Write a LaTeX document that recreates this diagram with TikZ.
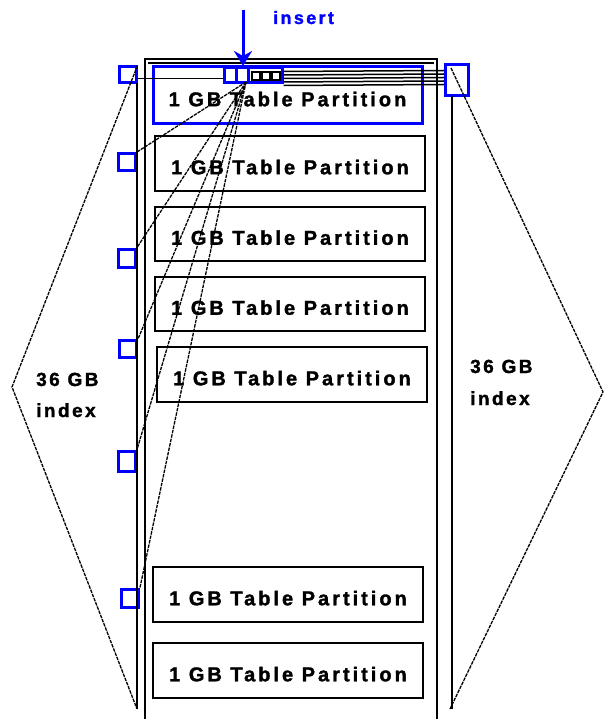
\documentclass[tikz,border=0pt]{standalone}
\usepackage{fontspec}
\setmainfont{Liberation Sans}
\newfontfamily\lblfont{Liberation Sans}[LetterSpace=13, BoldFeatures={FakeBold=1.5}]
\newfontfamily\partfontfam{Liberation Sans}[LetterSpace=15, BoldFeatures={FakeBold=1.5}]
\usetikzlibrary{arrows.meta,calc}
\definecolor{pureblue}{RGB}{0,0,255}
\tikzset{
  part/.style={draw=black, line width=1.2pt, inner sep=0pt, text height=21.5pt, text depth=0pt,
    font=\partfontfam\bfseries\fontsize{20}{20}\selectfont},
  bluepart/.style={part, draw=pureblue, line width=3pt},
  bsq/.style={draw=pureblue, line width=3pt, inner sep=0pt},
  ksq/.style={draw=black, line width=1.2pt, inner sep=0pt, minimum size=8pt},
  lbl/.style={inner sep=0pt, font=\lblfont\bfseries\fontsize{19}{20}\selectfont},
  thin/.style={line width=1.2pt},
  ptr/.style={line width=1.5pt},
  jag/.style={line width=1.3pt, dash pattern=on 3.5pt off 1pt},
}
\begin{document}
\begin{tikzpicture}[x=1pt,y=-1pt]
\useasboundingbox (0,0) rectangle (604,719);
% table outline (double top)
\draw[thin] (145,719) -- (145,59) -- (437,59) -- (437,719);
\draw[thin] (148,63) -- (434,63);
% partitions
\node[bluepart, minimum width=269pt, minimum height=57pt] (p1) at (287.5,95.5) {1 GB Table Partition};
\node[part, minimum width=270pt, minimum height=55pt] (p2) at (290,163.5) {1 GB Table Partition};
\node[part, minimum width=270pt, minimum height=54pt] (p3) at (290,234) {1 GB Table Partition};
\node[part, minimum width=270pt, minimum height=54pt] (p4) at (290,304) {1 GB Table Partition};
\node[part, minimum width=270pt, minimum height=55pt] (p5) at (292,374.5) {1 GB Table Partition};
\node[part, minimum width=270pt, minimum height=55pt] (p6) at (288,594.5) {1 GB Table Partition};
\node[part, minimum width=270pt, minimum height=55pt] (p7) at (288,670.5) {1 GB Table Partition};
% top small squares
\node[bsq, minimum width=12pt, minimum height=15pt] (a) at (230,75) {};
\node[bsq, minimum width=12pt, minimum height=15pt] (b) at (242,75) {};
\node[bsq, minimum width=34pt, minimum height=15pt] (c) at (265,75) {};
\node[ksq] (k1) at (256,76) {};
\node[ksq] (k2) at (266,76) {};
\node[ksq] (k3) at (276,76) {};
% left index squares
\node[bsq, minimum width=17pt, minimum height=16pt] (s0) at (127.5,75) {};
\node[bsq, minimum width=17pt, minimum height=17pt] (s1) at (127,162) {};
\node[bsq, minimum width=17pt, minimum height=18pt] (s2) at (127,258) {};
\node[bsq, minimum width=17pt, minimum height=17pt] (s3) at (128,349) {};
\node[bsq, minimum width=17pt, minimum height=20pt] (s4) at (127,461) {};
\node[bsq, minimum width=17pt, minimum height=18pt] (s5) at (130,598) {};
% right index square
\node[bsq, minimum width=23pt, minimum height=31pt] (r) at (457,80) {};
% index outlines
\coordinate (ltop) at (137,83);
\coordinate (ltip) at (12,387);
\coordinate (lbot) at (137,709);
\coordinate (rst) at (451,68);
\coordinate (rtip) at (603,392);
\coordinate (rbot) at (450,709);
\coordinate (rvt) at (452,96);
\coordinate (rvb) at (452,709);
\draw[thin] (ltop) -- (lbot);
\draw[jag] (s0.north east) -- (ltip) -- (lbot);
\draw[thin] (rvt) -- (rvb);
\draw[jag] (rst) -- (rtip) -- (rbot);
% horizontal pointer lines
\draw[ptr] ($(s0.east)+(0,3.5)$) -- ($(a.west)+(0,3.5)$);
\foreach \dy/\ey in {-3.5/-9.5,0/-6,3.5/-2.5,7/1,10.5/4.5}{
  \draw[ptr] ($(c.east)+(0,\dy)$) -- ($(r.west)+(0,\ey)$);
}
% fan of pointers
\coordinate (cv) at (246,82);
\foreach \s in {s1,s2,s3,s4,s5}{
  \draw[jag] (cv) -- (\s.north east);
}
% insert arrow
\coordinate (ins) at (243,10);
\coordinate (inse) at (243,66);
\draw[pureblue, line width=3pt, -{Stealth[length=15pt,width=18pt,inset=5pt]}] (ins) -- (inse);
\node[lbl, text=pureblue, anchor=base west, font=\lblfont\bfseries\fontsize{18}{20}\selectfont] (tins) at (273,24) {insert};
% index labels
\node[lbl, anchor=base west] (l1) at (36,386) {36 GB};
\node[lbl, anchor=base west] (l2) at (36,417) {index};
\node[lbl, anchor=base west] (r1) at (470,373) {36 GB};
\node[lbl, anchor=base west] (r2) at (470,405) {index};
\end{tikzpicture}
\end{document}
